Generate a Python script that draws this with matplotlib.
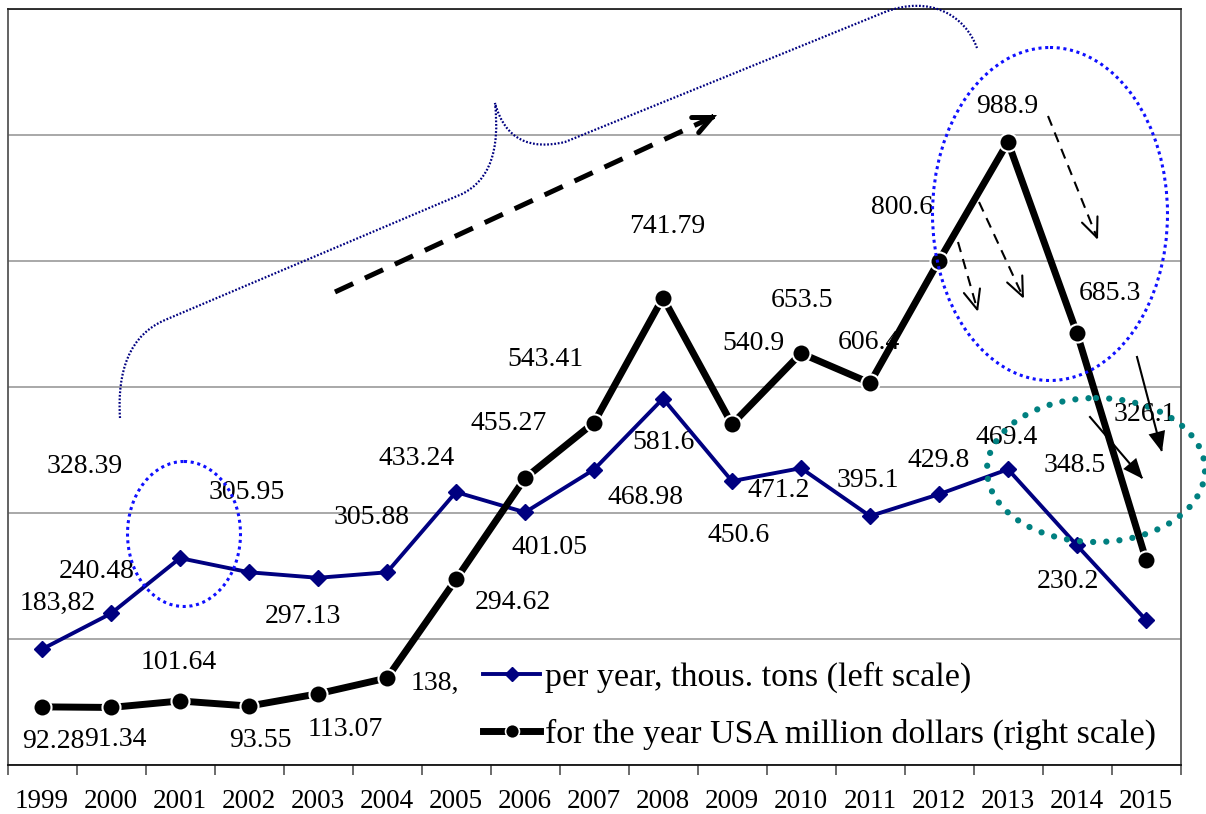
import matplotlib
matplotlib.use('Agg')
import numpy as np
import matplotlib.pyplot as plt
from matplotlib.patches import Ellipse, PathPatch, FancyArrowPatch
from matplotlib.path import Path
from matplotlib.transforms import Affine2D
from matplotlib.lines import Line2D
from matplotlib.font_manager import FontProperties

plt.rcParams['font.family'] = ['Liberation Serif', 'DejaVu Serif']

# ---------------- data ----------------
years = [str(y) for y in range(1999, 2016)]
tons = [183.82, 240.48, 328.39, 305.95, 297.13, 305.88, 433.24, 401.05, 468.98,
        581.6, 450.6, 471.2, 395.1, 429.8, 469.4, 348.5, 230.2]
dollars = [92.28, 91.34, 101.64, 93.55, 113.07, 138.0, 294.62, 455.27, 543.41,
           741.79, 540.9, 653.5, 606.4, 800.6, 988.9, 685.3, 326.1]
tons_labels = ["183,82", "240.48", "328.39", "305.95", "297.13", "305.88", "433.24",
               "401.05", "468.98", "581.6", "450.6", "471.2", "395.1", "429.8",
               "469.4", "348.5", "230.2"]
dollars_labels = ["92.28", "91.34", "101.64", "93.55", "113.07", "138,", "294.62",
                  "455.27", "543.41", "741.79", "540.9", "653.5", "606.4", "800.6",
                  "988.9", "685.3", "326.1"]
series_names = ["per year, thous. tons (left scale)",
                "for the year USA million dollars (right scale)"]

# label offsets from their points (pixels, +y = up)
tons_off = [(16, 46), (-14, 42), (-95, 92), (-2, 80), (-15, -39), (-15, 55), (-39, 34),
            (24, -35), (51, -28), (0, -44), (7, -54), (-22, -22), (-2, 36), (0, 34),
            (-1, 32), (-2, 80), (-78, 38)]
dollars_off = [(11, -35), (4, -32), (-1, 38), (11, -34), (27, -36), (48, -5), (57, -23),
               (-16, 55), (-49, 63), (4, 71), (21, 81), (1, 53), (-1, 40), (-37, 53),
               (-1, 35), (33, 40), (-1, 145)]

W, H = 1206, 814
fig = plt.figure(figsize=(W / 100, H / 100), dpi=100)
fig.patch.set_facecolor('white')
px = Affine2D().scale(1 / W, -1 / H).translate(0, 1) + fig.transFigure
P2PT = 72 / 100

ax = fig.add_axes([7.5 / W, 49 / H, 1173 / W, 756 / H])
x = np.arange(len(years))
ax.set_xlim(-0.5, len(years) - 0.5)
ax.set_ylim(0, 1200)
ax.set_yticks(np.arange(0, 1201, 200))
ax.yaxis.grid(True, color='#9a9a9a', lw=1.2)
ax.set_axisbelow(True)
ax.tick_params(axis='y', length=0, labelleft=False)
ax.set_xticks(x)
ax.set_xticklabels(years, fontsize=19.5)
ax.set_xticks(np.arange(-0.5, len(years), 1), minor=True)
ax.tick_params(axis='x', which='major', length=0, pad=17)
ax.tick_params(axis='x', which='minor', length=7, width=1.1, color='#444444', direction='out')
for s, c in [('left', '#555555'), ('right', '#555555'), ('top', '#222222'), ('bottom', '#111111')]:
    ax.spines[s].set_color(c)
    ax.spines[s].set_linewidth(1.3)

ax2 = ax.twinx()
ax2.set_ylim(0, 1200)
ax2.set_yticks([])
for s in ax2.spines.values():
    s.set_visible(False)

l1, = ax.plot(x, tons, color='#000080', lw=2.8, marker='D', ms=8,
              mfc='#000080', mec='#000080', zorder=3)
l2, = ax2.plot(x, dollars, color='black', lw=5, marker='o', ms=13,
               mfc='black', mec='white', mew=1.5, zorder=3)

for i, (t, (dx, dy)) in enumerate(zip(tons_labels, tons_off)):
    ax.annotate(t, (x[i], tons[i]), xytext=(dx * P2PT, dy * P2PT), textcoords='offset points',
                ha='center', va='center', fontsize=20, zorder=2)
for i, (t, (dx, dy)) in enumerate(zip(dollars_labels, dollars_off)):
    ax2.annotate(t, (x[i], dollars[i]), xytext=(dx * P2PT, dy * P2PT), textcoords='offset points',
                 ha='center', va='center', fontsize=20, zorder=1)

h1 = Line2D([], [], color='#000080', lw=2.8, marker='D', ms=7, mfc='#000080', mec='#000080')
h2 = Line2D([], [], color='black', lw=5, marker='o', ms=10, mfc='black', mec='white', mew=1.2)
fig.legend([h1, h2], series_names, loc='upper left', bbox_to_anchor=(483 / W, 1 - 662 / H),
           frameon=False, prop=FontProperties(family='Liberation Serif', size=24.5),
           handlelength=1.68, handletextpad=0.15, borderpad=0, borderaxespad=0,
           labelspacing=0.74, numpoints=1)

# ---------------- decorations ----------------
blue_dot = dict(fill=False, ec='#1010ff', lw=2.2, ls=(0, (1, 1.2)), transform=px)
fig.add_artist(Ellipse((184, 534), 113, 145, **blue_dot))
fig.add_artist(Ellipse((1050, 214), 235, 333, **blue_dot))
fig.add_artist(Ellipse((1096, 470), 218, 144, fill=False, ec='#008080', lw=4.5,
                       ls=(0, (0.01, 2.1)), capstyle='round', transform=px))

verts = [(120, 418), (117, 370), (130, 335), (165, 320),
         (462, 194),
         (490, 180), (500, 150), (495, 103),
         (505, 140), (530, 150), (565, 142),
         (885, 12),
         (930, -5), (965, 15), (977, 48)]
codes = [Path.MOVETO, Path.CURVE4, Path.CURVE4, Path.CURVE4,
         Path.LINETO,
         Path.CURVE4, Path.CURVE4, Path.CURVE4,
         Path.CURVE4, Path.CURVE4, Path.CURVE4,
         Path.LINETO,
         Path.CURVE4, Path.CURVE4, Path.CURVE4]
fig.add_artist(PathPatch(Path(verts, codes), fill=False, ec='#000080', lw=1.6,
                         ls=(0, (0.8, 0.8)), transform=px))


def arrow(p0, p1, lw, ls, hl, hw, style='->'):
    p0 = np.array(p0, float)
    p1 = np.array(p1, float)
    d = (p1 - p0) / np.hypot(*(p1 - p0))
    fig.add_artist(Line2D([p0[0], p1[0] - d[0] * 2], [p0[1], p1[1] - d[1] * 2],
                          color='black', lw=lw, ls=ls, transform=px))
    a = p1 - d * 4
    fig.add_artist(FancyArrowPatch(tuple(a), tuple(p1), transform=px,
                                   arrowstyle=f'{style},head_length={hl},head_width={hw}',
                                   mutation_scale=1, lw=lw, color='black',
                                   shrinkA=0, shrinkB=0, joinstyle='miter'))


arrow((335, 292), (717, 115), 3.6, (0, (4, 2.6)), 13, 6)
arrow((1048, 116), (1098, 240), 1.5, (0, (5, 3.5)), 14, 6)
arrow((979, 202), (1024, 299), 1.5, (0, (5, 3.5)), 14, 6)
arrow((958, 242), (978, 312), 1.5, (0, (5, 3.5)), 14, 6)
arrow((1137, 357), (1162, 452), 1.5, '-', 12, 5, style='-|>')
arrow((1090, 417), (1143, 479), 1.5, '-', 12, 5, style='-|>')

fig.savefig('out.png', dpi=100, facecolor='white')
